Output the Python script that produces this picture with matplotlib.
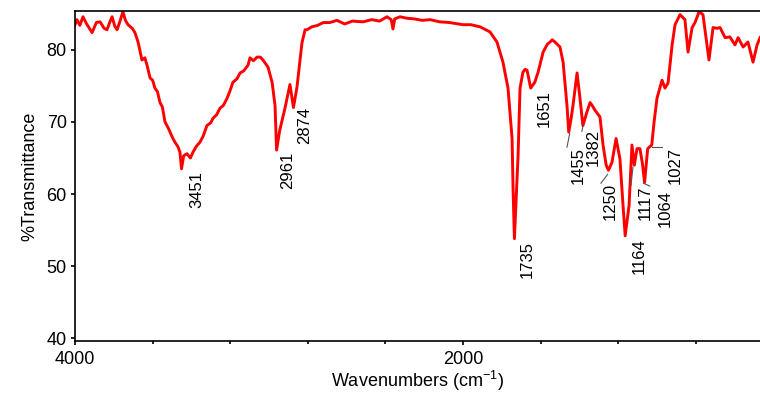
import matplotlib
matplotlib.use("Agg")
import matplotlib.pyplot as plt
from matplotlib.ticker import MultipleLocator

plt.rcParams['font.family'] = ['Liberation Sans', 'DejaVu Sans']
plt.rcParams['mathtext.default'] = 'regular'

# traced spectrum (wavenumber cm-1, %T)
wn = [4000, 3990, 3975, 3959, 3940, 3912, 3890, 3871, 3850, 3835, 3820, 3809, 3795,
      3783, 3768, 3753, 3740, 3727, 3705, 3691, 3675, 3655, 3640, 3629, 3613, 3600,
      3588, 3575, 3562, 3550, 3536, 3520, 3510, 3497, 3485, 3470, 3459, 3451, 3440,
      3423, 3405, 3392, 3375, 3356, 3340, 3320, 3300, 3289, 3270, 3253, 3235, 3216,
      3200, 3186, 3165, 3149, 3130, 3108, 3098, 3080, 3062, 3045, 3031, 3005, 2984,
      2969, 2961, 2945, 2933, 2917, 2892, 2874, 2856, 2830, 2814, 2804, 2780, 2750,
      2720, 2686, 2650, 2610, 2570, 2515, 2470, 2430, 2392, 2370, 2361, 2352, 2325,
      2290, 2250, 2210, 2170, 2120, 2070, 2000, 1960, 1912, 1861, 1825, 1794, 1768,
      1747, 1742, 1735, 1728, 1716, 1706, 1691, 1680, 1670, 1651, 1630, 1613, 1587,
      1565, 1551, 1540, 1526, 1500, 1484, 1464, 1455, 1443, 1433, 1412, 1397, 1382,
      1361, 1345, 1332, 1319, 1294, 1278, 1262, 1250, 1232, 1211, 1191, 1175, 1164,
      1144, 1129, 1117, 1103, 1088, 1075, 1064, 1048, 1027, 1015, 1000, 974, 959,
      943, 922, 907, 881, 856, 840, 819, 804, 783, 763, 732, 711, 690, 675, 649,
      624, 598, 582, 556, 531, 505, 484, 469]
tr = [83.5, 84.2, 83.4, 84.6, 83.6, 82.4, 83.8, 83.9, 83.0, 82.8, 83.9, 84.6, 83.3,
      82.8, 84.0, 85.3, 84.1, 83.5, 83.0, 82.4, 81.1, 78.6, 78.9, 77.9, 76.1, 75.8,
      74.7, 74.2, 72.7, 72.1, 70.0, 69.2, 68.6, 67.8, 67.2, 66.6, 65.8, 63.5, 65.3,
      65.6, 65.0, 65.8, 66.6, 67.2, 68.0, 69.5, 69.9, 70.5, 71.0, 71.9, 72.3, 73.3,
      74.4, 75.5, 76.0, 76.8, 77.1, 77.9, 78.9, 78.5, 79.0, 79.0, 78.6, 77.6, 75.5,
      72.3, 66.1, 68.8, 70.2, 72.0, 75.2, 72.0, 74.8, 81.0, 82.8, 82.8, 83.2, 83.4,
      83.8, 83.8, 84.1, 83.6, 84.0, 83.9, 84.2, 84.0, 84.6, 84.2, 82.9, 84.3, 84.6,
      84.4, 84.3, 84.1, 84.2, 83.9, 83.8, 83.5, 83.5, 83.2, 82.5, 81.1, 78.3, 74.7,
      67.7, 60.8, 53.8, 58.0, 65.4, 74.7, 76.9, 77.3, 77.2, 74.7, 75.5, 76.9, 79.7,
      80.8, 81.1, 81.4, 81.1, 80.4, 78.3, 72.3, 68.6, 70.4, 72.3, 76.8, 73.3, 69.5,
      71.4, 72.7, 72.2, 71.6, 70.7, 66.8, 64.0, 63.3, 64.4, 67.7, 64.9, 58.4, 54.2,
      58.4, 66.8, 64.0, 66.3, 66.3, 64.2, 61.6, 66.3, 66.8, 70.0, 73.3, 75.8, 74.7,
      75.4, 80.7, 83.5, 84.9, 84.2, 79.7, 83.1, 83.8, 85.3, 84.9, 78.6, 83.1, 83.0,
      83.1, 81.7, 81.8, 80.7, 81.7, 80.4, 81.1, 78.3, 80.7, 81.7]

# peak labels: text, anchor (wn, %T)
peak_labels = ['3451', '2961', '2874', '1735', '1651', '1455', '1382', '1250',
               '1164', '1117', '1064', '1027']
label_wn = [3371, 2902, 2814, 1670, 1582, 1407, 1330, 1242, 1093, 1062, 959, 907]
label_tr = [63.2, 65.8, 72.1, 53.5, 74.4, 66.5, 69.1, 61.5, 53.9, 61.2, 60.5, 66.5]

# leader lines: (wn0, tr0, wn1, tr1)
leaders = [(1450, 68.4, 1464, 66.5),
           (1382, 69.4, 1387, 68.7),
           (1255, 62.7, 1289, 61.5),
           (1124, 63.7, 1134, 61.2),
           (1070, 61.5, 1037, 61.1),
           (1027, 66.5, 974, 66.5)]

fig = plt.figure(figsize=(7.6, 3.93), dpi=100)
ax = fig.add_axes([0.0987, 0.1323, 0.9013, 0.8397])

ax.plot(wn, tr, color='#ff0000', lw=2.1)

for t, x, y in zip(peak_labels, label_wn, label_tr):
    ax.text(x, y, t, rotation=90, ha='center', va='top', fontsize=12)

for x0, y0, x1, y1 in leaders:
    ax.plot([x0, x1], [y0, y1], color='#555555', lw=0.8)

ax.set_xlim(4000, 469)
ax.set_ylim(39.6, 85.4)
ax.xaxis.set_major_locator(MultipleLocator(2000))
ax.xaxis.set_minor_locator(MultipleLocator(400))
ax.yaxis.set_major_locator(MultipleLocator(10))

ax.spines['right'].set_visible(False)
for s in ['left', 'bottom', 'top']:
    ax.spines[s].set_linewidth(1.2)
ax.tick_params(axis='both', which='major', direction='out', length=3, width=1.2,
               labelsize=13, pad=3)
ax.tick_params(axis='x', which='minor', direction='out', length=2, width=1.2)
ax.tick_params(axis='x', which='major', pad=4)

ax.set_xlabel('Wavenumbers (cm$^{-1}$)', fontsize=13, labelpad=1)
ax.set_ylabel('%Transmittance', fontsize=13, labelpad=6)

fig.savefig('out.png', dpi=100)
